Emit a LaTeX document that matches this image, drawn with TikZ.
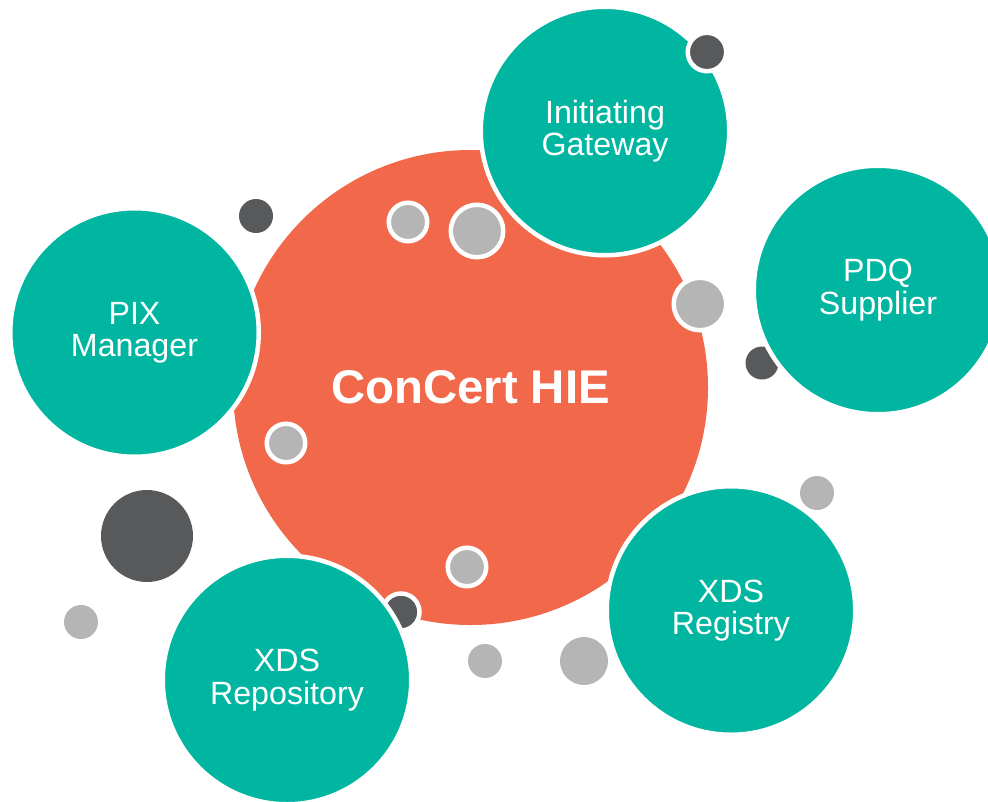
\documentclass[tikz,border=0pt]{standalone}
\usepackage{fontspec}
\setmainfont{Liberation Sans}
\definecolor{hieorange}{HTML}{F2684B}
\definecolor{hieteal}{HTML}{00B6A0}
\definecolor{dotlight}{HTML}{B5B5B5}
\definecolor{dotdark}{HTML}{58595B}
\begin{document}
\begin{tikzpicture}
                            [x=1bp, y=-1bp,
                            hub/.style = {circle, fill=hieorange,
                                        minimum size = 475bp, inner sep=0pt,
                                        text=white,
                                        font=\bfseries\fontsize{47.5}{50}\selectfont},
                            actor/.style = {circle, fill=hieteal,
                                        draw=white, line width=4.5bp,
                                        minimum size = 248.5bp, inner sep=0pt,
                                        text=white, align=center,
                                        font=\fontsize{32.3}{32.5}\selectfont},
                            ringed/.style = {circle, draw=white, line width=4.5bp,
                                        inner sep=0pt, minimum size = #1},
                            bare/.style = {circle, inner sep=0pt,
                                        minimum size = #1}]
                            \useasboundingbox (0,0) rectangle (988,802);
                            % HIE central
                            \node[hub] (hie) at (470.5,387.5) {ConCert HIE};
                            % Puntos sobre el HIE
                            \node[ringed=38.5bp, fill=dotlight] (d1) at (408,222) {};
                            \node[ringed=52.5bp, fill=dotlight] (d2) at (477,231) {};
                            \node[ringed=52.5bp, fill=dotlight] (d3) at (700,304) {};
                            \node[ringed=38.5bp, fill=dotlight] (d4) at (286,443) {};
                            \node[ringed=38.5bp, fill=dotlight] (d5) at (467,567) {};
                            % Puntos tapados
                            \node[bare=33bp, fill=dotdark] (k1) at (762,363) {};
                            \node[ringed=37bp, fill=dotdark] (k2) at (401,612) {};
                            % Actores
                            \node[actor] (gw) at (605,131) {Initiating\\Gateway};
                            \node[actor] (pdq) at (878,290) {PDQ\\Supplier};
                            \node[actor] (pix) at (134.5,332.5) {PIX\\Manager};
                            \node[actor] (reg) at (731,610.5) {XDS\\Registry};
                            \node[actor] (rep) at (287,680) {XDS\\Repository};
                            % Puntos sueltos
                            \node[ringed=38.5bp, fill=dotdark] (k3) at (707,52) {};
                            \node[bare=34bp, fill=dotdark] (k4) at (256,216) {};
                            \node[bare=92bp, fill=dotdark] (k5) at (147,536) {};
                            \node[bare=34bp, fill=dotlight] (d6) at (81,622) {};
                            \node[bare=34bp, fill=dotlight] (d7) at (485,661) {};
                            \node[bare=48bp, fill=dotlight] (d8) at (584,661) {};
                            \node[bare=34bp, fill=dotlight] (d9) at (817,493) {};
                        \end{tikzpicture}
\end{document}
